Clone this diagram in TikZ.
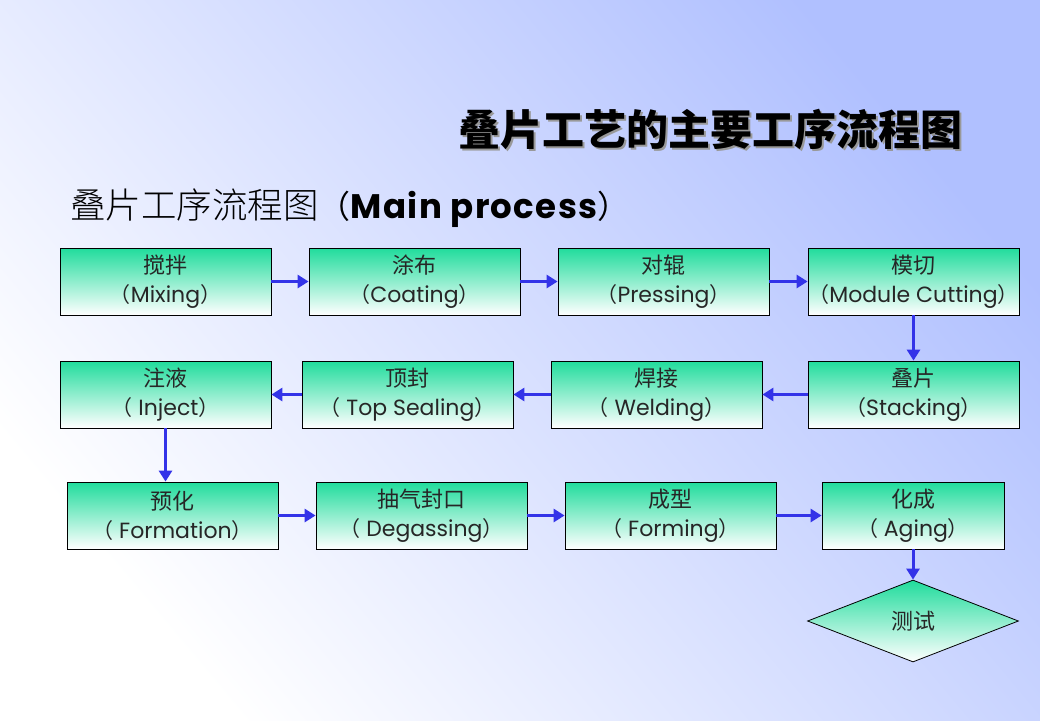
\documentclass[tikz,border=0pt]{standalone}
\usepackage{fontspec}
\setmainfont{Poppins}
\newfontfamily\cjk{Noto Sans CJK SC}
\newfontfamily\cjklight{Noto Sans CJK SC Light}
\newfontfamily\cjkblack{Noto Sans CJK SC Black}
\usetikzlibrary{shapes.geometric,arrows.meta}
\definecolor{bgblue}{RGB}{176,192,255}
\definecolor{boxgreen}{RGB}{32,220,156}
\definecolor{arrowblue}{RGB}{51,51,232}
\newcommand\pbtext[2]{{\cjk\fontsize{22}{28}\selectfont #1}\\{\cjk\fontsize{21}{29}\selectfont （}#2{\cjk\fontsize{21}{29}\selectfont ）}}
\tikzset{
  procbox/.style={draw=black, line width=0.8pt, top color=boxgreen, bottom color=white,
    minimum width=211pt, minimum height=67pt, inner sep=0pt, align=center,
    font=\fontsize{22}{29}\selectfont, text=black!85},
  flow/.style={arrowblue, line width=3pt, -{Triangle[length=11pt,width=13pt]}},
  testdia/.style={diamond, draw=black, line width=0.8pt, top color=boxgreen, bottom color=white,
    minimum width=211pt, minimum height=82pt, inner sep=0pt, font=\cjk\fontsize{22}{24}\selectfont, text=black!85}
}
\begin{document}
\begin{tikzpicture}[x=1pt,y=-1pt]
\useasboundingbox (0,0) rectangle (1040,720);
\shade[shading=axis, top color=bgblue, bottom color=white, shading angle=-50] (0,0) rectangle (1040,720);
% titles
\node[text=black!40, font=\cjkblack\fontsize{42}{46}\selectfont] at (712,131) {叠片工艺的主要工序流程图};
\node (title) [text=black, font=\cjkblack\fontsize{42}{46}\selectfont] at (710,129) {叠片工艺的主要工序流程图};
\node (sub) [anchor=west, inner sep=0pt] at (70,208) {{\cjklight\fontsize{35.5}{40}\selectfont 叠片工序流程图}{\cjk\fontsize{32}{40}\selectfont （}{\fontsize{34}{40}\selectfont\bfseries\addfontfeature{LetterSpace=4} Main process}{\cjk\fontsize{32}{40}\selectfont ）}};
% row 1
\node[procbox] (mix) at (165.5,281.5) {\pbtext{搅拌}{Mixing}};
\node[procbox] (coat) at (414.5,281.5) {\pbtext{涂布}{Coating}};
\node[procbox] (press) at (663.5,281.5) {\pbtext{对辊}{Pressing}};
\node[procbox] (cut) at (913.5,281.5) {\pbtext{模切}{Module Cutting}};
% row 2
\node[procbox] (inject) at (165.5,394.5) {\pbtext{注液}{\ Inject}};
\node[procbox] (top) at (407.5,394.5) {\pbtext{顶封}{\ Top Sealing}};
\node[procbox] (weld) at (656.5,394.5) {\pbtext{焊接}{\ Welding}};
\node[procbox] (stack) at (913.5,394.5) {\pbtext{叠片}{Stacking}};
% row 3
\node[procbox] (form) at (172.5,515.5) {\pbtext{预化}{\ Formation}};
\node[procbox] (degas) at (421.5,515.5) {\pbtext{抽气封口}{\ Degassing}};
\node[procbox] (forming) at (670.5,515.5) {\pbtext{成型}{\ Forming}};
\node[procbox, minimum width=182pt] (aging) at (913,515.5) {\pbtext{化成}{\ Aging}};
% diamond
\node[testdia] (test) at (913,621) {测试};
% connectors
\draw[flow] (mix) -- (coat);
\draw[flow] (coat) -- (press);
\draw[flow] (press) -- (cut);
\draw[flow] (cut) -- (stack);
\draw[flow] (stack) -- (weld);
\draw[flow] (weld) -- (top);
\draw[flow] (top) -- (inject);
\draw[flow] (inject.south) -- (inject.south |- form.north);
\draw[flow] (form) -- (degas);
\draw[flow] (degas) -- (forming);
\draw[flow] (forming) -- (aging);
\draw[flow] (aging) -- (test);
\end{tikzpicture}
\end{document}
